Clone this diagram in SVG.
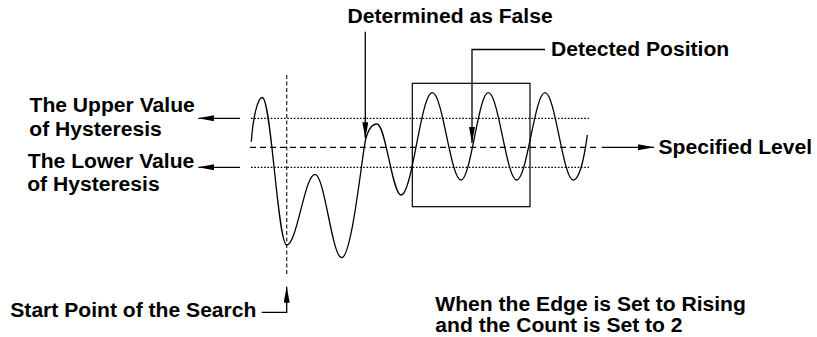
<svg xmlns="http://www.w3.org/2000/svg" width="817" height="337" viewBox="0 0 817 337">
<style>
text{font-family:"Liberation Sans",Arial,Helvetica,sans-serif;font-weight:bold;font-size:21.1px;fill:#000}
.ln{fill:none;stroke:#000;stroke-width:1.3}
.dot{fill:none;stroke:#000;stroke-width:1.2;stroke-dasharray:1.6 1.7}
.dash{fill:none;stroke:#000;stroke-width:1.2;stroke-dasharray:6 4}
.vdash{fill:none;stroke:#333;stroke-width:1.3;stroke-dasharray:4 2.5}
.arr{fill:none;stroke:#000;stroke-width:1.3;marker-end:url(#ah)}
</style>
<defs>
<marker id="ah" markerUnits="userSpaceOnUse" markerWidth="17" markerHeight="7" refX="16" refY="3" orient="auto">
<path d="M0,0 L16,3 L0,6 Z" fill="#000"/>
</marker>
</defs>
<rect width="817" height="337" fill="#fff"/>
<g id="levels">
<line class="dot" x1="251" y1="118.3" x2="589" y2="118.3"/>
<line class="dot" x1="251" y1="167.3" x2="589" y2="167.3"/>
<line class="dash" x1="250" y1="147.3" x2="597" y2="147.3"/>
<line class="vdash" x1="286.7" y1="75" x2="286.7" y2="274"/>
</g>
<g id="window">
<rect x="412.3" y="83.3" width="117.7" height="123.4" fill="none" stroke="#000" stroke-width="1.2"/>
</g>
<g id="wave">
<path class="ln" d="M251.3,141.7 C253,118 257.5,97.5 262.3,97.5 C271.2,97.5 277.8,245 286.7,245 C297,245 304.7,174.3 315,174.3 C324.7,174.3 332,257.7 341.7,257.7 C352,257.7 362.5,151.2 365.6,139.5 C367.8,131 371,124 377,124 C385.7,124 392.3,195 401,195 C412.4,195 420.9,92.7 432.3,92.7 C442.7,92.7 450.6,180 461,180 C470.9,180 478.4,92.7 488.3,92.7 C498.6,92.7 506.4,180 516.7,180 C527,180 534.7,92.7 545,92.7 C555.3,92.7 563,180 573.3,180 C579,180 584,160 587.3,135"/>
</g>
<g id="connectors">
<line class="arr" x1="240" y1="118.3" x2="198.3" y2="118.3"/>
<line class="arr" x1="240" y1="167.3" x2="198.3" y2="167.3"/>
<line class="arr" x1="601.7" y1="147.3" x2="654" y2="147.3"/>
<line class="arr" x1="365.3" y1="31.7" x2="365.3" y2="138.3"/>
<polyline class="arr" points="545,49.5 472,49.5 472,143"/>
<polyline class="arr" points="261.7,312.3 286.7,312.3 286.7,286.7"/>
</g>
<g id="label-false"><text x="347.5" y="22.5">Determined as False</text></g>
<g id="label-detected"><text x="551" y="56">Detected Position</text></g>
<g id="label-upper"><text x="29.5" y="112">The Upper Value</text><text x="29.3" y="136">of Hysteresis</text></g>
<g id="label-lower"><text x="27.8" y="167.5">The Lower Value</text><text x="27.2" y="191">of Hysteresis</text></g>
<g id="label-level"><text x="658.5" y="154">Specified Level</text></g>
<g id="label-start"><text x="10.3" y="316.7">Start Point of the Search</text></g>
<g id="label-note"><text x="435.3" y="311.2">When the Edge is Set to Rising</text><text x="435.3" y="332.2">and the Count is Set to 2</text></g>
</svg>
